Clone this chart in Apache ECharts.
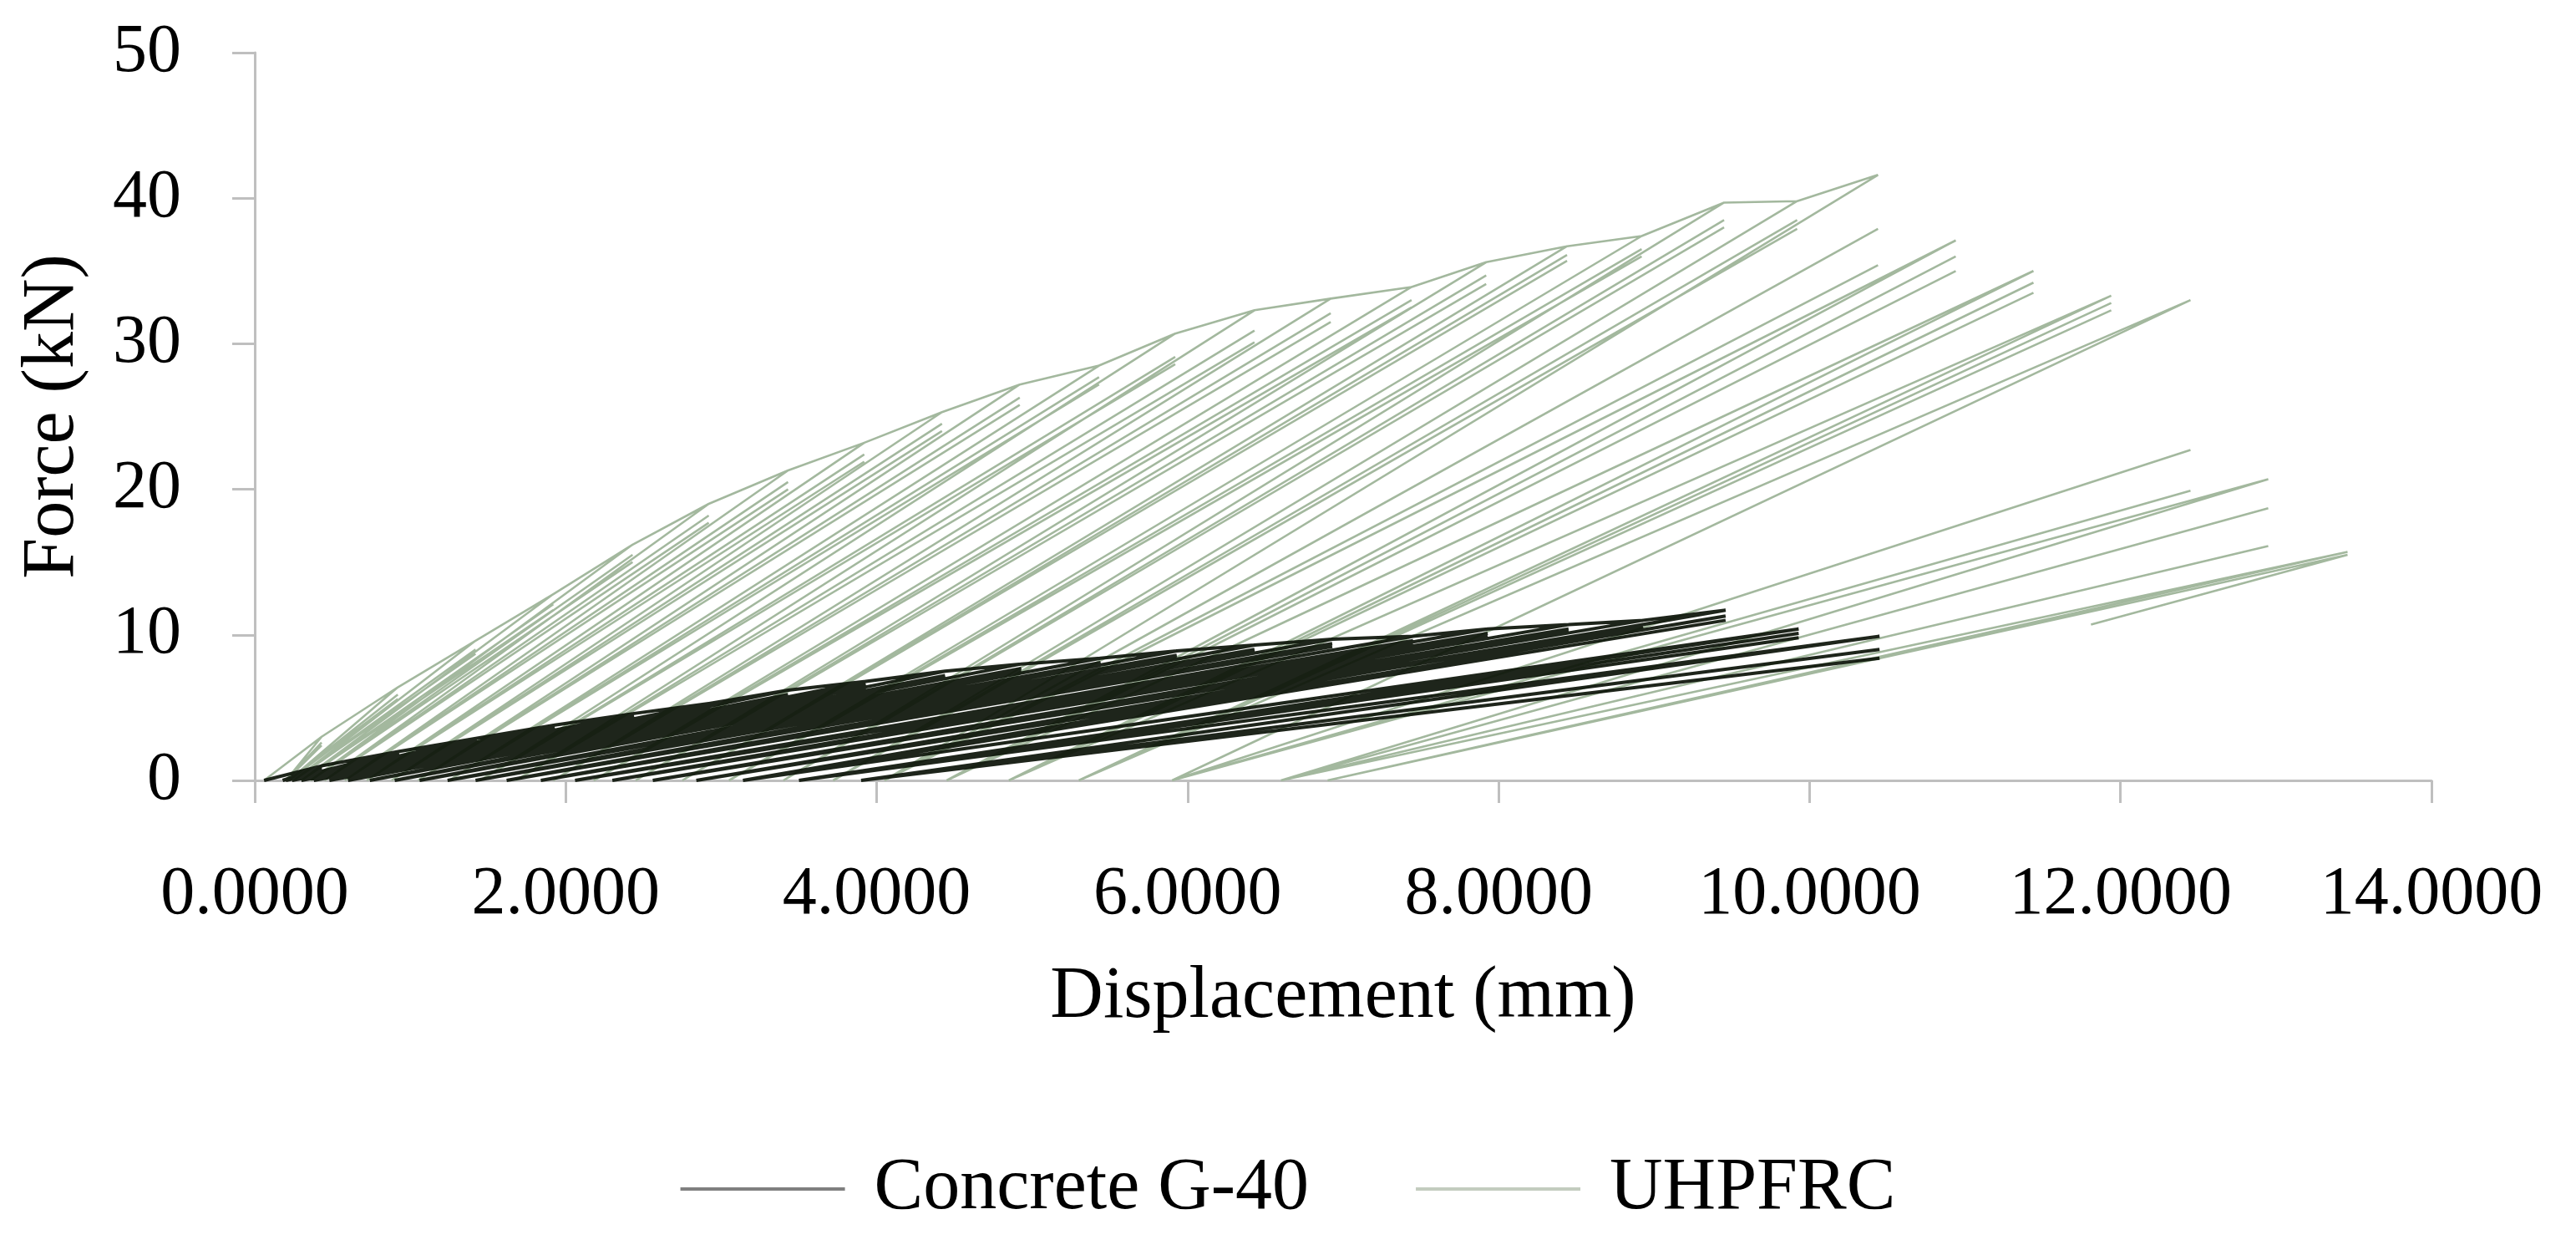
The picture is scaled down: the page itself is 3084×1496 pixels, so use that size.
<!DOCTYPE html>
<html>
<head>
<meta charset="utf-8">
<script src="https://cdn.jsdelivr.net/npm/echarts@6/dist/echarts.min.js"></script>
<style>
  html, body { margin: 0; background: #fff; }
  #chart { width: 3084px; height: 1496px; }
</style>
</head>
<body>
<div id="chart"></div>
<script>
// displacement levels (mm) and peak forces (kN) of each cycle
var uhpPeakX = [0.43, 0.92, 1.42, 1.92, 2.43, 2.92, 3.43, 3.92, 4.42, 4.92, 5.43, 5.92, 6.43, 6.92,
  7.44, 7.92, 8.44, 8.92, 9.45, 9.92, 10.44, 10.94, 11.44, 11.94, 12.45, 12.95, 13.46];
var uhpF1 = [3.0, 6.4, 9.6, 12.8, 16.2, 19.0, 21.3, 23.2, 25.3, 27.2, 28.5, 30.7, 32.3, 33.1,
  33.9, 35.6, 36.7, 37.4, 39.7, 39.8, 41.6, 37.1, 35.0, 33.3, 33.0, 20.7, 15.7];
var uhpF2 = [2.6, 5.9, 9.0, 12.1, 15.5, 18.2, 20.5, 22.4, 24.5, 26.3, 27.7, 29.1, 30.9, 32.1,
  33.0, 34.7, 36.1, 36.5, 38.5, 38.5, 37.9, 36.0, 34.2, 32.8, 22.7, 18.7, 15.5];
var uhpF3 = [2.4, 5.6, 8.7, 11.7, 15.0, 17.7, 20.0, 21.9, 24.0, 25.8, 27.2, 28.6, 30.1, 31.5,
  32.5, 34.1, 35.7, 36.0, 38.0, 37.9, 35.4, 35.0, 33.5, 32.3, 19.9, 16.1, null];
var uhpResid = [0.2, 0.22, 0.25, 0.3, 0.36, 0.45, 0.58, 0.72, 0.88, 1.05, 1.25, 1.45, 1.68, 1.92,
  2.18, 2.45, 2.75, 3.05, 3.4, 3.72, 4.05, 4.45, 4.85, 5.3, 5.9, 6.6, 6.9];
var uhpEnd = [11.81, 10.7];

var ccPeakX = [0.43, 0.93, 1.43, 1.93, 2.44, 2.93, 3.43, 3.93, 4.44, 4.93, 5.44, 5.93, 6.43, 6.93,
  7.45, 7.93, 8.45, 8.93, 9.46, 9.93, 10.45];
var ccF1 = [1.0, 2.0, 2.9, 3.8, 4.6, 5.3, 6.2, 6.8, 7.5, 8.0, 8.4, 8.9, 9.3, 9.7, 9.9, 10.4, 10.7, 11.0, 11.7, 10.4, 9.9];
var ccF2 = [0.9, 1.8, 2.7, 3.6, 4.4, 5.1, 5.9, 6.6, 7.2, 7.7, 8.1, 8.6, 9.0, 9.4, 9.6, 10.1, 10.4, 10.7, 11.3, 10.1, 9.0];
var ccF3 = [0.8, 1.7, 2.6, 3.5, 4.3, 4.9, 5.7, 6.4, 7.0, 7.5, 7.9, 8.4, 8.8, 9.2, 9.4, 9.9, 10.2, 10.5, 11.0, 9.8, 8.4];
var ccResid = [0.18, 0.2, 0.24, 0.3, 0.38, 0.48, 0.6, 0.74, 0.9, 1.06, 1.24, 1.42, 1.62, 1.84,
  2.06, 2.3, 2.56, 2.84, 3.14, 3.5, 3.9];

var xTicks = [0, 2, 4, 6, 8, 10, 12, 14];

// chain the read cycles into one continuous trace: reload -> peak -> unload to residual
function buildTrace(px, f1, f2, f3, resid, end) {
  var pts = [[0.06, 0]];
  for (var i = 0; i < px.length; i++) {
    var cycles = [f1[i], f2[i], f3[i]].filter(function (v) { return v != null; });
    if (i > 0 && f1[i] > f1[i - 1]) pts.push([px[i - 1], f1[i - 1]]);
    for (var c = 0; c < cycles.length; c++) {
      pts.push([px[i], cycles[c]]);
      var last = (i === px.length - 1 && c === cycles.length - 1);
      if (last && end) pts.push(end);
      else pts.push([resid[i], 0]);
    }
  }
  return pts;
}

var font = 'Liberation Serif';
var axisGrey = '#bfbfbf';

var chart = echarts.init(document.getElementById('chart'));
chart.setOption({
  backgroundColor: '#fff',
  animation: false,
  grid: { left: 305, right: 173, top: 63, bottom: 562 },
  legend: {
    data: [
      { name: 'Concrete G-40', itemStyle: { color: '#7f7f7f' } },
      { name: 'UHPFRC', itemStyle: { color: '#c3ccbf' } }
    ],
    icon: 'rect',
    bottom: 24,
    left: 'center',
    itemWidth: 197,
    itemHeight: 4,
    itemGap: 128,
    textStyle: { fontFamily: font, fontSize: 88, color: '#000', padding: [0, 0, 0, 30] }
  },
  xAxis: {
    type: 'value',
    min: 0,
    max: 14,
    interval: 2,
    name: 'Displacement (mm)',
    nameLocation: 'middle',
    nameGap: 216,
    nameTextStyle: { fontFamily: font, fontSize: 88, color: '#000' },
    axisLine: { lineStyle: { color: axisGrey, width: 3 } },
    axisTick: { length: 27, lineStyle: { color: axisGrey, width: 3 } },
    axisLabel: {
      fontFamily: font, fontSize: 82, color: '#000', margin: 96,
      formatter: function (v) { return xTicks.indexOf(v) >= 0 ? v.toFixed(4) : ''; }
    },
    splitLine: { show: false }
  },
  yAxis: {
    type: 'value',
    min: 0,
    max: 50,
    interval: 10,
    name: 'Force (kN)',
    nameLocation: 'middle',
    nameGap: 197,
    nameTextStyle: { fontFamily: font, fontSize: 88, color: '#000' },
    axisLine: { show: true, lineStyle: { color: axisGrey, width: 3 } },
    axisTick: { show: true, length: 27, lineStyle: { color: axisGrey, width: 3 } },
    axisLabel: { fontFamily: font, fontSize: 82, color: '#000', margin: 88 },
    splitLine: { show: false }
  },
  series: [
    {
      name: 'Concrete G-40',
      type: 'line',
      z: 3,
      symbol: 'none',
      silent: true,
      color: '#0b1208',
      lineStyle: { color: '#0b1208', width: 4, opacity: 0.92 },
      data: buildTrace(ccPeakX, ccF1, ccF2, ccF3, ccResid, null)
    },
    {
      name: 'UHPFRC',
      type: 'line',
      z: 2,
      symbol: 'none',
      silent: true,
      color: '#a3b89e',
      lineStyle: { color: '#a3b89e', width: 2.6 },
      data: buildTrace(uhpPeakX, uhpF1, uhpF2, uhpF3, uhpResid, uhpEnd)
    }
  ]
});
</script>
</body>
</html>
